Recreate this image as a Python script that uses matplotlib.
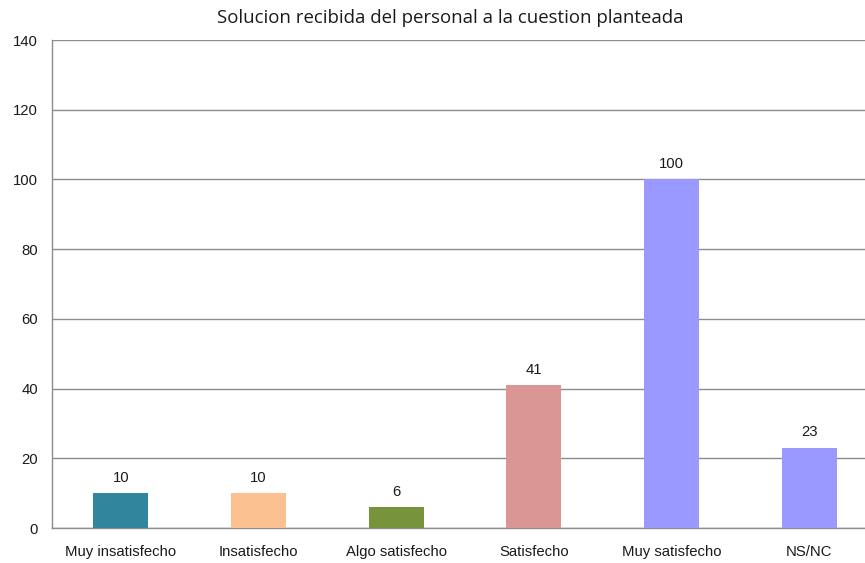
import matplotlib
matplotlib.use("Agg")
import matplotlib.pyplot as plt

categories = ["Muy insatisfecho", "Insatisfecho", "Algo satisfecho",
              "Satisfecho", "Muy satisfecho", "NS/NC"]
values = [10, 10, 6, 41, 100, 23]
colors = ["#31859C", "#FAC090", "#77933C", "#D99694", "#9999FF", "#9999FF"]
yticks = [0, 20, 40, 60, 80, 100, 120, 140]
title = "Solucion recibida del personal a la cuestion planteada"

W, H = 865, 563
fig = plt.figure(figsize=(W / 100, H / 100), dpi=100)
left, right, top, bottom = 52, 878, 40, 528
ax = fig.add_axes([left / W, 1 - bottom / H, (right - left) / W, (bottom - top) / H])

fs = 10.7
x = list(range(len(categories)))
ax.bar(x, values, width=0.4, color=colors, zorder=3)
for xi, v in zip(x, values):
    ax.annotate(str(v), (xi, v), xytext=(0, 6), textcoords="offset points",
                ha="center", va="bottom", fontsize=fs, family="Liberation Sans",
                color="#1a1a1a")

ax.set_xlim(-0.5, len(categories) - 0.5)
ax.set_ylim(0, 140)
ax.set_yticks(yticks)
ax.set_yticklabels([str(t) for t in yticks], family="Liberation Sans", fontsize=fs)
ax.set_xticks(x)
ax.set_xticklabels(categories, family="Liberation Sans", fontsize=fs)
ax.tick_params(axis="both", length=0, colors="#1a1a1a")
ax.tick_params(axis="y", pad=10)
ax.tick_params(axis="x", pad=12.5)
ax.yaxis.grid(True, color="#8c8c8c", linewidth=1.0, zorder=0)
ax.set_axisbelow(True)
for s in ["top", "right"]:
    ax.spines[s].set_visible(False)
for s in ["left", "bottom"]:
    ax.spines[s].set_color("#8c8c8c")
    ax.spines[s].set_linewidth(1.0)

fig.text(450 / W, 1 - 18 / H, title, ha="center", va="center",
         fontsize=13.4, family="Open Sans", color="#1a1a1a")

fig.savefig("out.png", dpi=100)
